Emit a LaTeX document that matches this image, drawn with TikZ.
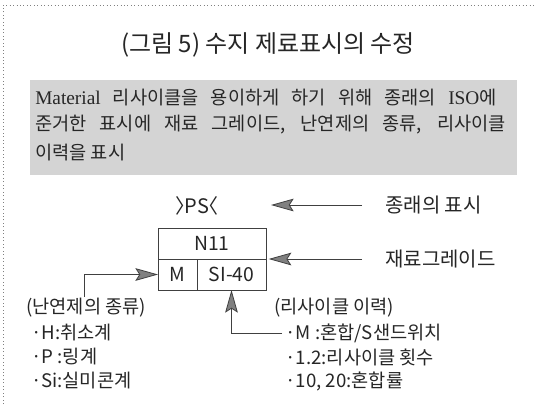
\documentclass[tikz,border=0pt]{standalone}
\usepackage{fontspec}
\setmainfont{Noto Sans CJK KR}
\newfontfamily\latserif{Liberation Serif}
\usetikzlibrary{arrows.meta,calc}
\begin{document}
\begin{tikzpicture}[x=0.75pt,y=-0.75pt,
  txt/.style={inner sep=0pt,text=black!85},
  title/.style={txt,font=\fontsize{18}{21}\selectfont},
  para/.style={txt,anchor=west,font=\fontsize{14}{17}\selectfont},
  lbl/.style={txt,anchor=west,font=\fontsize{15}{18}\selectfont},
  lst/.style={txt,anchor=west,font=\fontsize{14}{16}\selectfont},
  cell/.style={draw=black!75,line width=0.6pt,inner sep=0pt,outer sep=0pt,
    minimum height=23.25pt,text=black!85,font=\fontsize{14.5}{17}\selectfont},
  arr/.style={draw=black!75,line width=0.6pt,
    -{Stealth[length=17pt,width=9.5pt,inset=3pt,fill=black!50]}},
  panel/.style={fill=black!17,inner sep=0pt,outer sep=0pt}
]
\useasboundingbox (0,0) rectangle (536,404);
\fill[white] (0,0) rectangle (536,404);
% frame (top and left edges)
\draw[black!50,dotted,line width=0.6pt] (3,404) -- (3,5) -- (536,5);
% title
\node[title] (ttl) at (268,45) {(그림 5) 수지 제료표시의 수정};
% shaded panel
\node[panel,anchor=north west,minimum width=365.25pt,minimum height=71.25pt] (pan) at (30,80) {};
\node[para] (l1) at (35,98) {\makebox[346pt][s]{{\latserif\fontsize{14.5}{17}\selectfont Material} 리사이클을 용이하게 하기 위해 종래의 {\latserif\fontsize{14.5}{17}\selectfont ISO}에}};
\node[para] (l2) at (35,125) {\makebox[353pt][s]{준거한 표시에 재료 그레이드, 난연제의 종류, 리사이클}};
\node[para] (l3) at (35,153) {이력을 표시};
% marking
\node[lbl,anchor=center] (ps) at (197,206) {〉\kern-0.55em PS\kern-0.55em〈};
\node[lbl] (jr) at (385,205) {종래의 표시};
\node[lbl] (gr) at (385,259) {재료그레이드};
\coordinate (t1) at ($(jr.west)+(-23,0)$);
\coordinate (p1) at (271,205);
\draw[arr] (t1) -- (p1);
% box
\node[cell,minimum width=81pt] (n11) at (212,243.5) {N11};
\node[cell,minimum width=29.25pt] (cm) at (177.5,274.5) {M};
\node[cell,minimum width=51.75pt] (csi) at (231.5,274.5) {SI-40};
\coordinate (t2) at ($(gr.west)+(-23,0)$);
\draw[arr,shorten >=2pt] (t2) -- (n11.south east);
% left legend
\coordinate (lf) at (84,297);
\draw[arr] (lf) |- (cm.west);
\node[lst] (lh) at (26,308) {(난연제의 종류)};
\node[lst] (la) at (31,333) {·H:취소계};
\node[lst] (lb) at (31,357) {·P :링계};
\node[lst] (lc) at (31,381) {·Si:실미콘계};
% right legend
\coordinate (rf) at (282,333);
\draw[arr] (rf) -| (csi.south);
\node[lst] (rh) at (274,308) {(리사이클 이력)};
\node[lst] (ra) at (285,333) {·M :혼합/S샌드위치};
\node[lst] (rb) at (285,357) {·1.2:리사이클 횟수};
\node[lst] (rc) at (285,381) {·10, 20:혼합률};
\end{tikzpicture}
\end{document}
